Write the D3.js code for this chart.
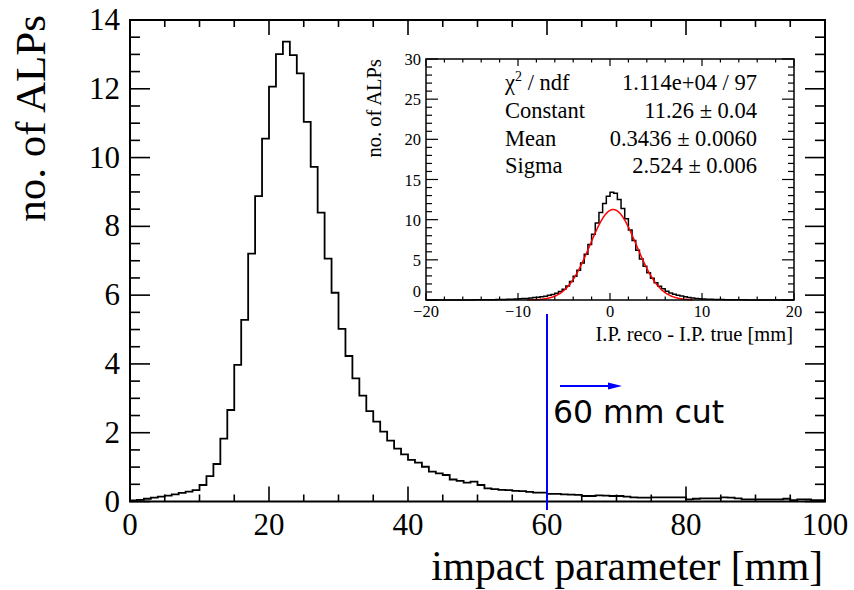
<!DOCTYPE html>
<html><head><meta charset="utf-8">
<script src="https://cdn.jsdelivr.net/npm/d3@7"></script>
<style>body{margin:0;background:#fff} svg{display:block}</style>
</head><body><svg id="c" width="854" height="590"></svg>
<script>
// ---------- data ----------
const mainBinLow = 0, mainBinWidth = 1;
const mainCounts = [
 0.03,0.05,0.08,0.11,0.14,0.17,0.21,0.25,0.29,0.33,
 0.48,0.74,1.09,1.83,2.66,3.97,5.28,7.21,8.88,10.55,
 12.06,13.01,13.37,12.98,12.45,11.04,9.73,8.40,7.06,6.07,
 5.02,4.23,3.58,3.08,2.63,2.32,2.03,1.77,1.54,1.37,
 1.21,1.13,1.01,0.87,0.82,0.77,0.64,0.60,0.55,0.58,
 0.48,0.38,0.36,0.34,0.33,0.31,0.30,0.28,0.26,0.26,
 0.22,0.22,0.21,0.20,0.19,0.16,0.16,0.18,0.17,0.16,
 0.16,0.14,0.12,0.11,0.11,0.12,0.12,0.12,0.12,0.12,
 0.06,0.08,0.09,0.09,0.09,0.12,0.11,0.09,0.06,0.06,
 0.06,0.06,0.06,0.06,0.08,0.04,0.06,0.06,0.04,0.04
];
const mainXTicks = [0,20,40,60,80,100];
const mainYTicks = [0,2,4,6,8,10,12,14];

const insetBinLow = -20, insetBinWidth = 0.4;
const insetCounts = [
 0,0,0,0,0,0,0,0,0.01,0.01,
 0.01,0.01,0.01,0.02,0.02,0.02,0.03,0.03,0.04,0.05,
 0.06,0.07,0.08,0.10,0.12,0.15,0.18,0.20,0.25,0.30,
 0.35,0.40,0.48,0.58,0.70,0.85,1.05,1.35,1.75,2.30,
 2.95,3.70,4.60,5.70,6.90,8.20,9.60,10.90,12.00,12.90,
 13.40,13.30,12.50,11.40,10.10,8.70,7.40,6.20,5.10,4.20,
 3.40,2.70,2.15,1.70,1.40,1.10,0.88,0.72,0.60,0.50,
 0.40,0.32,0.26,0.20,0.16,0.12,0.10,0.08,0.07,0.06,
 0.05,0.04,0.03,0.03,0.02,0.02,0.02,0.01,0.01,0.01,
 0.01,0.01,0,0,0,0,0,0,0,0
];
const insetXTicks = [-20,-10,0,10,20];
const insetYTicks = [0,5,10,15,20,25,30];
const fitConstant = 11.26, fitMean = 0.3436, fitSigma = 2.524;
const fitRange = [-9, 9];
const statsLabels = ["χ", "Constant", "Mean", "Sigma"];
const statsValues = ["1.114e+04 / 97", "11.26 ± 0.04", "0.3436 ± 0.0060", "2.524 ± 0.006"];
const cutValue = 60;
const cutLabel = "60 mm cut";

// ---------- drawing ----------
const SERIF = "'Liberation Serif','Times New Roman',serif";
const svg = d3.select('#c');
svg.append('rect').attr('width',854).attr('height',590).attr('fill','#fff');

function stepPts(counts, lo, w, xs, ys) {
  const pts = [[xs(lo), ys(0)]];
  counts.forEach((c,i)=>{ pts.push([xs(lo+i*w), ys(c)]); pts.push([xs(lo+(i+1)*w), ys(c)]); });
  return pts;
}
function drawTicks(g, xs, ys, xMinor, xMajorStep, yMinor, yMajorStep, lxM, lxm, lyM, lym, sw) {
  const [x0,x1] = xs.range(), [y0,y1] = ys.range();
  const isMaj = (v, s) => Math.abs(v/s - Math.round(v/s)) < 1e-6;
  xMinor.forEach(v => {
    const L = isMaj(v,xMajorStep) ? lxM : lxm, X = xs(v);
    g.append('line').attr('x1',X).attr('x2',X).attr('y1',y0).attr('y2',y0-L).attr('stroke','#000').attr('stroke-width',sw);
    g.append('line').attr('x1',X).attr('x2',X).attr('y1',y1).attr('y2',y1+L).attr('stroke','#000').attr('stroke-width',sw);
  });
  yMinor.forEach(v => {
    const L = isMaj(v,yMajorStep) ? lyM : lym, Y = ys(v);
    g.append('line').attr('x1',x0).attr('x2',x0+L).attr('y1',Y).attr('y2',Y).attr('stroke','#000').attr('stroke-width',sw);
    g.append('line').attr('x1',x1).attr('x2',x1-L).attr('y1',Y).attr('y2',Y).attr('stroke','#000').attr('stroke-width',sw);
  });
}

// main pad
const x = d3.scaleLinear().domain([0,100]).range([130,825]);
const y = d3.scaleLinear().domain([0,14]).range([501.5,20]);
const gm = svg.append('g');

gm.append('path').attr('d', d3.line()(stepPts(mainCounts, mainBinLow, mainBinWidth, x, y)))
  .attr('fill','none').attr('stroke','#000').attr('stroke-width',1.8);

drawTicks(gm, x, y, d3.range(0,100.001,5), 20, d3.range(0,14.001,0.5), 2, 15, 7, 20, 10, 1.6);
gm.append('rect').attr('x',130).attr('y',20).attr('width',695).attr('height',481.5)
  .attr('fill','none').attr('stroke','#000').attr('stroke-width',2);

gm.selectAll('.xl').data(mainXTicks).join('text').attr('x',d=>x(d)).attr('y',535)
  .attr('text-anchor','middle').attr('font-family',SERIF).attr('font-size',31).text(d=>d);
gm.selectAll('.yl').data(mainYTicks).join('text').attr('x',120).attr('y',d=>y(d)+10)
  .attr('text-anchor','end').attr('font-family',SERIF).attr('font-size',31).text(d=>d);
gm.append('text').attr('x',823).attr('y',580).attr('text-anchor','end')
  .attr('font-family',SERIF).attr('font-size',41.5).text('impact parameter [mm]');
gm.append('text').attr('transform','translate(45,15) rotate(-90)').attr('text-anchor','end')
  .attr('font-family',SERIF).attr('font-size',43).text('no. of ALPs');

// cut line + arrow + label
gm.append('line').attr('x1',x(cutValue)).attr('x2',x(cutValue)).attr('y1',314).attr('y2',510)
  .attr('stroke','#0000ff').attr('stroke-width',2);
gm.append('line').attr('x1',560).attr('x2',612).attr('y1',386).attr('y2',386)
  .attr('stroke','#0000ff').attr('stroke-width',2);
gm.append('polygon').attr('points','608,382.5 622,386 608,389.5').attr('fill','#0000ff');
gm.append('text').attr('x',553).attr('y',423).attr('font-family',"'DejaVu Sans',sans-serif")
  .attr('font-size',31.5).text(cutLabel);

// inset pad
const xi = d3.scaleLinear().domain([-20,20]).range([426,794]);
const yi = d3.scaleLinear().domain([0,30]).range([300,59]);
const gi = svg.append('g');
gi.append('rect').attr('x',426).attr('y',59).attr('width',368).attr('height',241).attr('fill','#fff');
gi.append('path').attr('d', d3.line()(stepPts(insetCounts, insetBinLow, insetBinWidth, xi, yi)))
  .attr('fill','none').attr('stroke','#000').attr('stroke-width',1.5);
const fitX = d3.range(fitRange[0], fitRange[1]+1e-9, 0.05);
gi.append('path').attr('d', d3.line().x(d=>xi(d)).y(d=>yi(fitConstant*Math.exp(-0.5*((d-fitMean)/fitSigma)**2)))(fitX))
  .attr('fill','none').attr('stroke','#ff0000').attr('stroke-width',1.5);
drawTicks(gi, xi, yi, d3.range(-20,20.001,2), 10, d3.range(0,30.001,1), 5, 7, 3.5, 12, 6, 1.2);
gi.append('rect').attr('x',426).attr('y',59).attr('width',368).attr('height',241)
  .attr('fill','none').attr('stroke','#000').attr('stroke-width',1.5);

gi.selectAll('.ixl').data(insetXTicks).join('text').attr('x',d=>xi(d)).attr('y',316.5)
  .attr('text-anchor','middle').attr('font-family',SERIF).attr('font-size',16.5)
  .text(d=> d<0 ? '\u2212'+Math.abs(d) : d);
gi.selectAll('.iyl').data(insetYTicks).join('text').attr('x',421).attr('y',d=>yi(d)+ (d===0 ? -3 : 6))
  .attr('text-anchor','end').attr('font-family',SERIF).attr('font-size',16.5).text(d=>d);
gi.append('text').attr('x',793).attr('y',340.5).attr('text-anchor','end')
  .attr('font-family',SERIF).attr('font-size',20.5).text('I.P. reco - I.P. true [mm]');
gi.append('text').attr('transform','translate(381,59) rotate(-90)').attr('text-anchor','end')
  .attr('font-family',SERIF).attr('font-size',20.5).text('no. of ALPs');

const base = [90,118,146,173];
statsLabels.forEach((s,i)=>{
  const t = gi.append('text').attr('x',505).attr('y',base[i]).attr('font-family',SERIF).attr('font-size',22.5);
  if (i===0) {
    t.append('tspan').text('χ');
    t.append('tspan').attr('dy',-9).attr('font-size',14).text('2');
    t.append('tspan').attr('dy',9).text(' / ndf');
  } else t.text(s);
  gi.append('text').attr('x',757).attr('y',base[i]).attr('text-anchor','end')
    .attr('font-family',SERIF).attr('font-size',22.5).text(statsValues[i]);
});
</script></body></html>
